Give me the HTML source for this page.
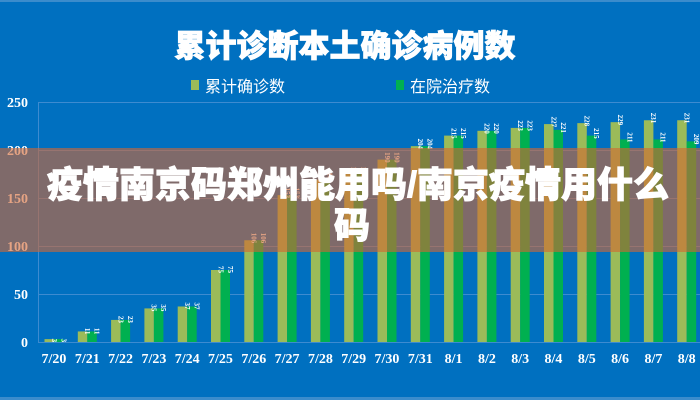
<!DOCTYPE html>
<html><head><meta charset="utf-8"><style>
html,body{margin:0;padding:0;background:#0070c0;}
svg{display:block}
</style></head><body>
<svg width="700" height="400" xmlns="http://www.w3.org/2000/svg" font-family="Liberation Serif, serif">
<rect width="700" height="400" fill="#0070c0"/>
<rect x="0" y="0" width="700" height="2" fill="#3b8ccc"/>
<rect x="0" y="397" width="700" height="3" fill="#3b8ccc"/>
<text x="345" y="57" text-anchor="middle" font-family="Liberation Sans, Noto Sans CJK SC, sans-serif" font-weight="900" font-size="31" fill="#fff" stroke="#fff" stroke-width="0.8">累计诊断本土确诊病例数</text>
<rect x="191" y="80" width="8" height="10" fill="#9bbb59"/>
<text x="205" y="92" font-family="Liberation Sans, Noto Sans CJK SC, sans-serif" font-size="16" fill="#fff">累计确诊数</text>
<rect x="396" y="80" width="8" height="10" fill="#00b050"/>
<text x="410" y="92" font-family="Liberation Sans, Noto Sans CJK SC, sans-serif" font-size="16" fill="#fff">在院治疗数</text>
<g stroke="#3d8bd0" stroke-width="1">
<line x1="38" y1="102.5" x2="700" y2="102.5"/>
<line x1="38" y1="150.5" x2="700" y2="150.5"/>
<line x1="38" y1="198.5" x2="700" y2="198.5"/>
<line x1="38" y1="246.5" x2="700" y2="246.5"/>
<line x1="38" y1="294.5" x2="700" y2="294.5"/>
<line x1="38" y1="342.5" x2="700" y2="342.5"/>
<line x1="38.5" y1="102" x2="38.5" y2="342"/>
</g>
<g font-weight="bold" font-size="14" fill="#fff" text-anchor="end">
<text x="28" y="107">250</text><text x="28" y="155">200</text><text x="28" y="203">150</text>
<text x="28" y="251">100</text><text x="28" y="299">50</text><text x="28" y="347">0</text>
</g>
<g id="bars"></g>
<g id="lab" font-weight="bold" font-size="14" fill="#fff" text-anchor="middle"></g>
<rect x="0" y="148" width="700" height="104" fill="rgb(212,102,49)" fill-opacity="0.6"/>
<text x="358" y="197" text-anchor="middle" font-family="Liberation Sans, Noto Sans CJK SC, sans-serif" font-weight="900" font-size="36" fill="#fff" stroke="#fff" stroke-width="1">疫情南京码郑州能用吗/南京疫情用什么</text>
<text x="352" y="238" text-anchor="middle" font-family="Liberation Sans, Noto Sans CJK SC, sans-serif" font-weight="900" font-size="36" fill="#fff" stroke="#fff" stroke-width="1">码</text>
<script>
var a=[3,11,23,35,37,75,106,153,169,175,190,204,215,220,223,227,228,229,231,231];
var g=[3,11,23,35,37,75,106,153,169,175,190,204,215,220,223,221,215,211,211,209];
var d=['7/20','7/21','7/22','7/23','7/24','7/25','7/26','7/27','7/28','7/29','7/30','7/31','8/1','8/2','8/3','8/4','8/5','8/6','8/7','8/8'];
var ns='http://www.w3.org/2000/svg',B=document.getElementById('bars'),L=document.getElementById('lab');
function r(x,y,w,h,f){var e=document.createElementNS(ns,'rect');e.setAttribute('x',x);e.setAttribute('y',y);e.setAttribute('width',w);e.setAttribute('height',h);e.setAttribute('fill',f);B.appendChild(e);}
function t(x,y,s,p){var e=document.createElementNS(ns,'text');e.setAttribute('x',x);e.setAttribute('y',y);e.textContent=s;p.appendChild(e);}
for(var i=0;i<20;i++){var c=54+33.3*i;
var ha=a[i]*0.96,hg=g[i]*0.96;
r(c-9.5,342-ha,9.5,ha,'#9bbb59');r(c,342-hg,9.5,hg,'#00b050');
t(c,363,d[i],L);
[[a[i],c-4.75,ha],[g[i],c+4.75,hg]].forEach(function(v){var y=342-v[2]+3;var e=document.createElementNS(ns,'text');e.setAttribute('x',0);e.setAttribute('y',0);e.setAttribute('font-size','7');e.setAttribute('font-weight','bold');e.setAttribute('fill','#fff');e.setAttribute('text-anchor','end');e.setAttribute('transform','translate('+(v[1]+2.5)+','+y+') rotate(90)');e.textContent=v[0];B.appendChild(e);});
}
</script>
</svg>
</body></html>
